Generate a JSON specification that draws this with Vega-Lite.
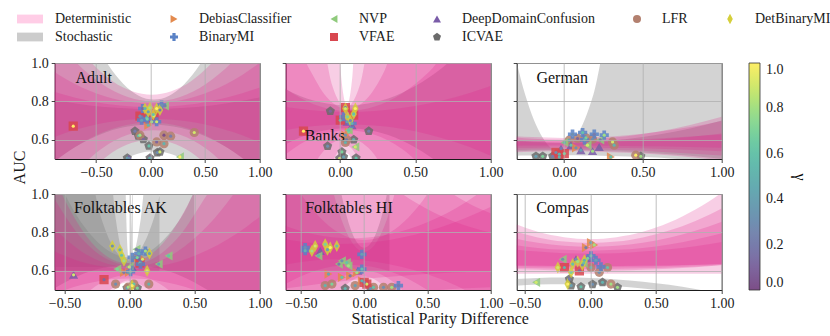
{
"$schema":"https://vega.github.io/schema/vega-lite/v6.json",
"autosize":{"type":"none"},
"padding":{"left":54.7,"top":63,"right":775.3,"bottom":273},
"background":"white",
"config":{"font":"Liberation Serif","view":{"stroke":"#1a1a1a","strokeWidth":1},
"text":{"font":"Liberation Serif"},
"axis":{"labelFont":"Liberation Serif","titleFont":"Liberation Serif","labelFontSize":14,"labelColor":"#1a1a1a","titleFontSize":16,"titleFontWeight":"normal","titleColor":"#1a1a1a","tickColor":"#1a1a1a","tickSize":3.5,"tickWidth":0.8,"domain":false,"grid":true,"gridColor":"#b0b0b0","gridWidth":0.8,"labelPadding":3,"labelFlush":false,"labelOverlap":false},
"legend":{"labelFont":"Liberation Serif","titleFont":"Liberation Serif","labelFontSize":14,"labelColor":"#1a1a1a"}},
"datasets":{
"bands":[
{"p":"A","b":1,"k":"s","x":[-0.9,-0.67,-0.39,-0.25,-0.11,0.03,0.17,0.31,0.45,0.73,1.05],"hi":[1.3,1.3,0.991,0.891,0.83,0.81,0.83,0.891,0.991,1.3,1.3],"lo":[0.3,0.3,0.436,0.494,0.528,0.54,0.528,0.494,0.436,0.3,0.3]},
{"p":"A","b":2,"k":"d","x":[-0.95,-0.89,-0.53,-0.35,-0.17,0.01,0.19,0.37,0.55,0.91,1.05],"hi":[1.3,1.275,0.993,0.905,0.853,0.835,0.853,0.905,0.993,1.275,1.3],"lo":[0.3,0.3,0.453,0.535,0.584,0.6,0.584,0.535,0.453,0.3,0.3]},
{"p":"A","b":3,"k":"d","x":[-0.95,-0.69,-0.45,-0.21,0.03,0.27,0.51,0.75,1.05],"hi":[1.181,1.006,0.892,0.823,0.8,0.823,0.892,1.006,1.213],"lo":[0.3,0.434,0.554,0.626,0.65,0.626,0.554,0.434,0.3]},
{"p":"A","b":4,"k":"d","x":[-0.95,-0.84,-0.56,-0.28,0,0.28,0.56,0.84,1.05],"hi":[0.98,0.938,0.856,0.806,0.79,0.806,0.856,0.938,1.022],"lo":[0.452,0.504,0.607,0.669,0.69,0.669,0.607,0.504,0.4]},
{"p":"A","b":5,"k":"d","x":[-0.95,-0.84,-0.56,-0.28,0,0.28,0.56,0.84,1.05],"hi":[0.862,0.842,0.802,0.778,0.77,0.778,0.802,0.842,0.882],"lo":[0.6,0.624,0.672,0.7,0.71,0.7,0.672,0.624,0.575]},
{"p":"A","b":6,"k":"s","x":[-0.95,-0.84,-0.56,-0.28,0,0.28,0.56,0.84,1.05],"hi":[0.815,0.803,0.779,0.765,0.76,0.765,0.779,0.803,0.828],"lo":[0.459,0.507,0.603,0.661,0.68,0.661,0.603,0.507,0.41]},
{"p":"B","b":1,"k":"d","x":[-0.4,-0.015,0.009,0.021,0.033,0.045,0.057,0.069,0.081,0.105,1.05],"hi":[1.3,1.172,0.921,0.843,0.796,0.78,0.796,0.843,0.921,1.172,1.3],"lo":[0.3,0.41,0.487,0.511,0.525,0.53,0.525,0.511,0.487,0.41,0.3]},
{"p":"B","b":2,"k":"d","x":[-0.4,-0.12,-0.056,-0.024,0.008,0.04,0.072,0.104,0.136,0.2,1.05],"hi":[1.3,1.118,0.895,0.826,0.784,0.77,0.784,0.826,0.895,1.118,1.3],"lo":[0.3,0.3,0.469,0.525,0.559,0.57,0.559,0.525,0.469,0.3,0.3]},
{"p":"B","b":3,"k":"d","x":[-0.4,-0.19,-0.11,-0.03,0.05,0.13,0.21,0.29,0.45,1.05],"hi":[1.3,0.95,0.844,0.781,0.76,0.781,0.844,0.95,1.288,1.3],"lo":[0.3,0.452,0.54,0.592,0.61,0.592,0.54,0.452,0.3,0.3]},
{"p":"B","b":4,"k":"d","x":[-0.4,-0.31,-0.13,0.05,0.23,0.41,0.59,0.95,1.05],"hi":[0.891,0.84,0.773,0.75,0.773,0.84,0.953,1.3,1.3],"lo":[0.5,0.554,0.626,0.65,0.626,0.554,0.434,0.3,0.3]},
{"p":"B","b":5,"k":"d","x":[-0.4,-0.31,-0.13,0.05,0.23,0.41,0.59,0.95,1.05],"hi":[0.776,0.765,0.75,0.745,0.75,0.765,0.789,0.867,0.896],"lo":[0.644,0.657,0.674,0.68,0.674,0.657,0.627,0.534,0.5]},
{"p":"B","b":6,"k":"s","x":[-0.4,-0.31,-0.13,0.05,0.23,0.41,0.59,0.95,1.05],"hi":[0.88,0.844,0.796,0.78,0.796,0.844,0.924,1.18,1.27],"lo":[0.56,0.596,0.644,0.66,0.644,0.596,0.516,0.3,0.3]},
{"p":"G","b":1,"k":"s","x":[-0.35,-0.246,-0.138,-0.03,0.078,0.186,0.294,0.51,1.05],"hi":[1.186,0.834,0.614,0.54,0.614,0.834,1.202,1.3,1.3],"lo":[0.516,0.518,0.52,0.52,0.52,0.518,0.516,0.51,0.478]},
{"p":"G","b":2,"k":"s","x":[-0.35,-0.2,0,0.2,0.4,0.6,1.0,1.05],"hi":[0.599,0.59,0.585,0.59,0.604,0.627,0.701,0.713],"lo":[0.54,0.543,0.545,0.543,0.538,0.529,0.501,0.496]},
{"p":"G","b":3,"k":"d","x":[-0.35,-0.2,0,0.2,0.4,0.6,1.0,1.05],"hi":[0.621,0.614,0.61,0.614,0.624,0.642,0.698,0.707],"lo":[0.546,0.549,0.55,0.549,0.545,0.538,0.518,0.515]},
{"p":"G","b":4,"k":"d","x":[-0.35,-0.2,0,0.2,0.4,0.6,1.0,1.05],"hi":[0.591,0.587,0.585,0.587,0.593,0.602,0.633,0.638],"lo":[0.558,0.559,0.56,0.559,0.557,0.553,0.54,0.538]},
{"p":"G","b":5,"k":"d","x":[-0.35,-0.2,0,0.2,0.4,0.6,1.0,1.05],"hi":[0.615,0.605,0.6,0.605,0.619,0.643,0.72,0.732],"lo":[0.534,0.538,0.54,0.538,0.532,0.523,0.492,0.487]},
{"p":"G","b":6,"k":"d","x":[-0.35,-0.2,0,0.2,0.4,0.6,1.0,1.05],"hi":[0.599,0.596,0.595,0.596,0.6,0.607,0.627,0.63],"lo":[0.569,0.57,0.57,0.57,0.568,0.566,0.558,0.557]},
{"p":"K","b":1,"k":"s","x":[-0.6,-0.055,-0.035,-0.025,-0.015,-0.005,0.005,0.015,0.025],"hi":[1.3,1.3,1.154,0.874,0.706,0.65,0.706,0.874,1.154],"lo":[0.62,0.62,0.62,0.62,0.62,0.62,0.62,0.62,0.62]},
{"p":"K","b":2,"k":"s","x":[-0.6,-0.25,-0.154,-0.106,-0.058,-0.01,0.038,0.086,0.134,0.23],"hi":[1.3,1.3,1.158,0.87,0.698,0.64,0.698,0.87,1.158,1.3],"lo":[0.6,0.6,0.6,0.6,0.6,0.6,0.6,0.6,0.6,0.6]},
{"p":"K","b":3,"k":"s","x":[-0.6,-0.525,-0.321,-0.219,-0.117,-0.015,0.087,0.189,0.291,0.495],"hi":[1.3,1.3,1.15,0.878,0.714,0.66,0.714,0.878,1.15,1.3],"lo":[0.6,0.6,0.6,0.6,0.6,0.6,0.6,0.6,0.6,0.6]},
{"p":"K","b":4,"k":"s","x":[-0.6,-0.4,-0.2,0,0.2,0.4,0.6,1.0,1.05],"hi":[1.145,0.881,0.723,0.67,0.723,0.881,1.145,1.3,1.3],"lo":[0.5,0.572,0.616,0.63,0.616,0.572,0.5,0.3,0.3]},
{"p":"K","b":5,"k":"d","x":[-0.6,-0.515,-0.365,-0.215,-0.135,-0.095,-0.055,-0.015,0.025,0.065,0.105,0.185,0.335,0.485,0.685,1.05],"hi":[1.122,0.993,0.813,0.696,0.66,0.649,0.642,0.64,0.642,0.649,0.66,0.696,0.813,0.993,1.3,1.3],"lo":[0.3,0.3,0.3,0.35,0.478,0.518,0.542,0.55,0.542,0.518,0.478,0.35,0.3,0.3,0.3,0.3]},
{"p":"K","b":6,"k":"d","x":[-0.6,-0.36,-0.24,-0.12,0,0.12,0.24,0.36,0.6,0.9,1.05],"hi":[0.834,0.697,0.654,0.629,0.62,0.629,0.654,0.697,0.834,1.101,1.274],"lo":[0.3,0.465,0.529,0.567,0.58,0.567,0.529,0.465,0.3,0.3,0.3]},
{"p":"K","b":7,"k":"d","x":[-0.6,-0.36,-0.24,-0.12,0,0.12,0.24,0.36,0.6,0.9,1.05],"hi":[0.708,0.645,0.626,0.614,0.61,0.614,0.626,0.645,0.708,0.83,0.909],"lo":[0.474,0.529,0.546,0.557,0.56,0.557,0.546,0.529,0.474,0.366,0.3]},
{"p":"K","b":8,"k":"d","x":[-0.6,-0.36,-0.24,-0.12,0,0.12,0.24,0.36,0.6,0.9,1.05],"hi":[1.0,0.763,0.689,0.645,0.63,0.645,0.689,0.763,1.0,1.3,1.3],"lo":[0.3,0.31,0.438,0.514,0.54,0.514,0.438,0.31,0.3,0.3,0.3]},
{"p":"H","b":1,"k":"s","x":[-0.65,-0.25,-0.18,-0.12,-0.06,0,0.06,0.12,0.18,0.2],"hi":[1.3,1.26,1.0,0.844,0.751,0.72,0.751,0.844,1.0,1.07],"lo":[0.6,0.6,0.6,0.6,0.6,0.6,0.6,0.6,0.6,0.6]},
{"p":"H","b":2,"k":"d","x":[-0.65,-0.35,-0.24,-0.16,-0.08,0,0.08,0.16,0.24,0.35,1.05],"hi":[1.3,1.3,1.0,0.833,0.733,0.7,0.733,0.833,1.0,1.3,1.3],"lo":[0.3,0.305,0.446,0.515,0.556,0.57,0.556,0.515,0.446,0.305,0.3]},
{"p":"H","b":3,"k":"d","x":[-0.65,-0.5,-0.35,-0.2,0,0.2,0.35,0.5,0.75,1.05],"hi":[1.166,1.0,0.878,0.798,0.76,0.798,0.878,1.0,1.3,1.3],"lo":[0.3,0.3225,0.464,0.556,0.6,0.556,0.464,0.3225,0.3,0.3]},
{"p":"H","b":4,"k":"d","x":[-0.65,-0.4,-0.1,0.2,0.5,0.8,1.05],"hi":[0.84,0.791,0.77,0.791,0.853,0.956,1.074],"lo":[0.521,0.598,0.63,0.598,0.5,0.338,0.3]},
{"p":"H","b":5,"k":"d","x":[-0.65,-0.3,0.1,0.4,0.7,1.0,1.05],"hi":[1.3,1.3,1.097,0.958,0.859,0.8,0.794],"lo":[0.505,0.536,0.564,0.58,0.591,0.598,0.598]},
{"p":"H","b":6,"k":"d","x":[-0.65,-0.45,-0.2,0.2,0.6,1.05],"hi":[0.767,0.748,0.74,0.761,0.825,0.948],"lo":[0.628,0.65,0.66,0.634,0.558,0.41]},
{"p":"H","b":7,"k":"d","x":[-0.65,0.0,0.5,0.7,0.9,1.05],"hi":[1.3,1.3,1.098,1.0,0.927,0.887],"lo":[0.39,0.459,0.495,0.505,0.512,0.516]},
{"p":"C","b":1,"k":"d","x":[-0.6,-0.4,-0.2,0,0.2,0.4,0.6,0.8,1.05],"hi":[0.851,0.803,0.775,0.765,0.775,0.803,0.851,0.919,1.03],"lo":[0.611,0.605,0.601,0.6,0.601,0.605,0.611,0.619,0.633]},
{"p":"C","b":2,"k":"d","x":[-0.6,-0.4,-0.2,0,0.2,0.4,0.6,0.8,1.05],"hi":[0.81,0.774,0.752,0.745,0.752,0.774,0.81,0.86,0.943],"lo":[0.617,0.613,0.611,0.61,0.611,0.613,0.617,0.623,0.632]},
{"p":"C","b":3,"k":"d","x":[-0.6,-0.4,-0.2,0,0.2,0.4,0.6,0.8,1.05],"hi":[0.772,0.746,0.73,0.725,0.73,0.746,0.772,0.808,0.868],"lo":[0.625,0.622,0.621,0.62,0.621,0.622,0.625,0.63,0.637]},
{"p":"C","b":4,"k":"d","x":[-0.6,-0.4,-0.2,0,0.2,0.4,0.6,0.8,1.05],"hi":[0.737,0.719,0.709,0.705,0.709,0.719,0.737,0.763,0.804],"lo":[0.629,0.627,0.625,0.625,0.625,0.627,0.629,0.631,0.636]},
{"p":"C","b":5,"k":"d","x":[-0.6,-0.4,-0.2,0,0.2,0.4,0.6,0.8,1.05],"hi":[0.712,0.7,0.692,0.69,0.692,0.7,0.712,0.728,0.756],"lo":[0.585,0.585,0.585,0.585,0.585,0.585,0.585,0.585,0.585]},
{"p":"C","b":6,"k":"s","x":[-0.6,-0.4,-0.2,0,0.2,0.4,0.6,0.8,1.05],"hi":[0.555,0.563,0.565,0.563,0.555,0.543,0.527,0.505,0.471],"lo":[0.52,0.528,0.53,0.528,0.52,0.508,0.492,0.47,0.436]}
],
"pts":[
{"p":"A","m":"ICVAE","x":[-0.144,-0.113,-0.067,-0.016,0.061,0.085,-0.214,-0.006],"y":[0.645,0.621,0.603,0.568,0.534,0.537,0.505,0.505],"g":[0.2,0.5,0.1,0.6,0.3,0.9,0.4,0.7]},
{"p":"A","m":"LFR","x":[-0.098,0.055,0.122,0.122,0.183,0.4],"y":[0.624,0.589,0.58,0.624,0.619,0.638],"g":[0.8,0.1,0.5,0,0.2,0.9]},
{"p":"A","m":"DeepDomainConfusion","x":[-0.006,-0.2],"y":[0.503,0.503],"g":[0.5,0.3]},
{"p":"A","m":"DebiasClassifier","x":[-0.022,0.009],"y":[0.676,0.694],"g":[0.5,0.8]},
{"p":"A","m":"NVP","x":[0.131,0.268],"y":[0.777,0.511],"g":[0.2,1]},
{"p":"A","m":"VFAE","x":[-0.71,-0.098,-0.037,0.03],"y":[0.671,0.723,0.714,0.725],"g":[1,0.3,0.6,0.9]},
{"p":"A","m":"BinaryMI","x":[-0.073,-0.083,-0.031,0.055,0.1],"y":[0.763,0.702,0.708,0.694,0.781],"g":[0.1,0.4,0.7,0.9,0.3]},
{"p":"A","m":"DetBinaryMI","x":[-0.052,-0.006,0.055,0.085,0.024,-0.022],"y":[0.763,0.767,0.763,0.755,0.732,0.746],"g":[0.5,0.8,1,0.2,0.6,0.4]},
{"p":"B","m":"ICVAE","x":[-0.064,-0.082,0.191,0.091,0.013,0.024,0.107,-0.002],"y":[0.749,0.567,0.645,0.601,0.537,0.511,0.505,0.503],"g":[0.1,0.3,0.2,0.5,0.7,0.4,0.6,0.9]},
{"p":"B","m":"LFR","x":[0.036,0.045],"y":[0.586,0.6],"g":[0.5,0.2]},
{"p":"B","m":"DeepDomainConfusion","x":[0.047,0.08],"y":[0.694,0.676],"g":[0.4,0.1]},
{"p":"B","m":"DebiasClassifier","x":[0.036,0.058],"y":[0.624,0.64],"g":[0.3,0.7]},
{"p":"B","m":"NVP","x":[0.058,0.102],"y":[0.65,0.563],"g":[0.6,0.9]},
{"p":"B","m":"VFAE","x":[-0.242,0.036,0.002,0.091],"y":[0.645,0.768,0.702,0.729],"g":[1,0.2,0.5,0.8]},
{"p":"B","m":"BinaryMI","x":[0.024,0.08],"y":[0.72,0.685],"g":[0.2,0.5]},
{"p":"B","m":"DetBinaryMI","x":[0.036,0.102,0.091,0.069,0.05],"y":[0.763,0.763,0.735,0.7,0.72],"g":[0.9,1,0.6,0.3,0.7]},
{"p":"G","m":"ICVAE","x":[-0.178,-0.135,-0.072,-0.03,0.487],"y":[0.514,0.514,0.514,0.51,0.514],"g":[0.4,0.7,0.2,0.5,0.8]},
{"p":"G","m":"LFR","x":[0.033,0.086,0.139,0.181,0.308,0.318,0.455],"y":[0.598,0.607,0.61,0.603,0.589,0.572,0.52],"g":[0.4,0.1,0.7,0.3,0.9,0.5,1]},
{"p":"G","m":"DeepDomainConfusion","x":[-0.019,0.044,0.107,0.181,0.223],"y":[0.554,0.572,0.546,0.541,0.563],"g":[0.2,0.6,0.4,0.8,0.1]},
{"p":"G","m":"DebiasClassifier","x":[0.297,0.076],"y":[0.511,0.558],"g":[0.6,0.3]},
{"p":"G","m":"NVP","x":[0.002,0.149,0.23],"y":[0.586,0.572,0.6],"g":[0.5,0.9,0.2]},
{"p":"G","m":"VFAE","x":[-0.051,0.002,-0.03],"y":[0.534,0.528,0.525],"g":[0.3,0.7,0.5]},
{"p":"G","m":"BinaryMI","x":[0.054,0.118,0.192,0.255,0.13],"y":[0.629,0.638,0.629,0.624,0.6],"g":[0.3,0.6,0.2,0.8,0.5]},
{"p":"K","m":"ICVAE","x":[-0.02,0.06],"y":[0.51,0.51],"g":[0.4,0.7]},
{"p":"K","m":"LFR","x":[0.071,0.148,-0.107,-0.01,0.033],"y":[0.66,0.531,0.531,0.515,0.531],"g":[0.1,0.5,0.3,0.8,0.6]},
{"p":"K","m":"DeepDomainConfusion","x":[-0.43,0.02],"y":[0.579,0.62],"g":[0.9,0.3]},
{"p":"K","m":"DebiasClassifier","x":[0.059,-0.005,-0.043,0.1],"y":[0.669,0.592,0.592,0.66],"g":[0.7,0.4,0.2,0.9]},
{"p":"K","m":"NVP","x":[0.053,0.3,0.224,-0.094,0.0],"y":[0.712,0.678,0.635,0.609,0.62],"g":[0.2,0.6,0.4,0.7,0.9]},
{"p":"K","m":"VFAE","x":[-0.196,0.08],"y":[0.554,0.64],"g":[0.1,0.6]},
{"p":"K","m":"BinaryMI","x":[0.02,0.071,0.122,0.084,0.008],"y":[0.67,0.69,0.703,0.635,0.596],"g":[0.3,0.5,0.8,0.2,0.6]},
{"p":"K","m":"DetBinaryMI","x":[-0.132,-0.074,-0.061,-0.043,0.153,0.135,0.02],"y":[0.729,0.709,0.681,0.652,0.69,0.6,0.523],"g":[0.3,0.5,0.6,0.8,0.4,0.9,1]},
{"p":"H","m":"ICVAE","x":[-0.15,0.05],"y":[0.508,0.508],"g":[0.5,0.3]},
{"p":"H","m":"LFR","x":[-0.308,-0.255,-0.071,0.074,0.153,0.218],"y":[0.523,0.531,0.523,0.514,0.514,0.514],"g":[0.5,0.7,0.4,0.6,0.3,0.8]},
{"p":"H","m":"DeepDomainConfusion","x":[-0.347,-0.05],"y":[0.703,0.6],"g":[0.1,0.3]},
{"p":"H","m":"DebiasClassifier","x":[-0.282,-0.176,-0.111,-0.058,-0.018],"y":[0.583,0.566,0.574,0.591,0.548],"g":[0.4,0.6,0.2,0.8,0.5]},
{"p":"H","m":"NVP","x":[-0.361,-0.176,-0.137,-0.124,-0.2],"y":[0.678,0.652,0.643,0.626,0.635],"g":[0.5,0.3,0.6,0.8,0.2]},
{"p":"H","m":"VFAE","x":[0.021,0.0],"y":[0.531,0.54],"g":[0.9,0.2]},
{"p":"H","m":"BinaryMI","x":[-0.466,-0.466,-0.018,-0.018,0.271],"y":[0.721,0.705,0.686,0.609,0.523],"g":[0.3,0.5,0.4,0.6,0.2]},
{"p":"H","m":"DetBinaryMI","x":[-0.387,-0.308,-0.268,-0.216,-0.413,-0.29],"y":[0.729,0.738,0.721,0.729,0.703,0.71],"g":[0.9,0.7,1,0.6,0.8,0.4]},
{"p":"C","m":"ICVAE","x":[-0.159,-0.146,-0.071,0.093,0.207,0.017],"y":[0.557,0.523,0.517,0.54,0.514,0.53],"g":[0.2,0.4,0.6,0.5,0.8,0.3]},
{"p":"C","m":"LFR","x":[0.131,0.068,0.157,0.005],"y":[0.617,0.592,0.531,0.617],"g":[0.6,0.3,0.8,0.5]},
{"p":"C","m":"DeepDomainConfusion","x":[-0.109,-0.02],"y":[0.66,0.665],"g":[0.3,0.7]},
{"p":"C","m":"DebiasClassifier","x":[0.005,0.03,-0.033],"y":[0.747,0.735,0.721],"g":[0.4,0.8,0.2]},
{"p":"C","m":"NVP","x":[-0.412,-0.21,-0.05],"y":[0.54,0.66,0.64],"g":[0.9,0.3,0.6]},
{"p":"C","m":"VFAE","x":[-0.197,-0.083],"y":[0.617,0.6],"g":[0.5,0.1]},
{"p":"C","m":"BinaryMI","x":[0.043,0.081,0.005],"y":[0.655,0.62,0.678],"g":[0.4,0.2,0.6]},
{"p":"C","m":"DetBinaryMI","x":[-0.247,-0.134,-0.096,-0.045,-0.06,-0.146,-0.172],"y":[0.617,0.635,0.648,0.655,0.63,0.592,0.531],"g":[0.9,0.6,0.8,0.5,0.3,0.7,1]}
]},
"columns":3,
"spacing":{"row":35,"column":26},
"bounds":"flush",
"concat":[
{"width":205,"height":96,"layer":[
{"data":{"name":"bands"},"transform":[{"filter":"datum.p==='A' && datum.k==='s'"},{"flatten":["x","hi","lo"]}],"mark":{"type":"area","interpolate":"monotone","color":"#808080","fillOpacity":0.35,"clip":true},"encoding":{"x":{"field":"x","type":"quantitative","scale":{"domain":[-0.88,1],"nice":false,"zero":false},"axis":{"values":[-0.5,0,0.5,1],"format":".2f","title":null,"zindex":1}},"y":{"field":"hi","type":"quantitative","stack":null,"scale":{"domain":[0.5,1],"nice":false,"zero":false},"axis":{"values":[0.6,0.8,1],"format":".1f","title":"AUC","titleY":104,"titlePadding":3,"zindex":1}},"y2":{"field":"lo"},"detail":{"field":"b","type":"nominal"}}},
{"data":{"name":"bands"},"transform":[{"filter":"datum.p==='A' && datum.k==='d'"},{"flatten":["x","hi","lo"]}],"mark":{"type":"area","interpolate":"monotone","color":"#e0208a","fillOpacity":0.22,"clip":true},"encoding":{"x":{"field":"x","type":"quantitative"},"y":{"field":"hi","type":"quantitative","stack":null},"y2":{"field":"lo"},"detail":{"field":"b","type":"nominal"}}},
{"data":{"name":"pts"},"transform":[{"filter":"datum.p==='A'"},{"flatten":["x","y","g"]}],"mark":{"type":"point","filled":true,"size":85,"opacity":0.85,"clip":true},"encoding":{"x":{"field":"x","type":"quantitative"},"y":{"field":"y","type":"quantitative"},
"fill":{"field":"m","type":"nominal","scale":{"domain":["Deterministic","DebiasClassifier","NVP","DeepDomainConfusion","LFR","DetBinaryMI","Stochastic","BinaryMI","VFAE","ICVAE"],"range":["#ffcde6","#e38a4e","#8fca7c","#7a5ca8","#b3806f","#d5cf3b","#cccccc","#5a82c6","#d8474f","#6b6b6b"]},"legend":{"orient":"none","legendX":-38.7,"legendY":-51,"direction":"horizontal","columns":6,"columnPadding":28,"rowPadding":4,"symbolSize":64,"symbolOffset":7,"labelOffset":18,"labelFontSize":14,"labelFont":"Liberation Serif","title":null,"symbolStrokeWidth":0,"symbolOpacity":1,"labelLimit":300,"padding":0}},
"shape":{"field":"m","type":"nominal","scale":{"domain":["Deterministic","DebiasClassifier","NVP","DeepDomainConfusion","LFR","DetBinaryMI","Stochastic","BinaryMI","VFAE","ICVAE"],"range":["M-3.25,-1.1H3.25V1.1H-3.25Z","triangle-right","triangle-left","triangle-up","circle","M0,-1.3L0.7,0L0,1.3L-0.7,0Z","M-3.25,-1.1H3.25V1.1H-3.25Z","cross","square","M0,-1.05L1,-0.32L0.62,0.85L-0.62,0.85L-1,-0.32Z"]},"legend":{"orient":"none","legendX":-38.7,"legendY":-51,"direction":"horizontal","columns":6,"columnPadding":28,"rowPadding":4,"symbolSize":64,"symbolOffset":7,"labelOffset":18,"labelFontSize":14,"labelFont":"Liberation Serif","title":null,"symbolStrokeWidth":0,"symbolOpacity":1,"labelLimit":300,"padding":0}}}},
{"data":{"name":"pts"},"transform":[{"filter":"datum.p==='A'"},{"flatten":["x","y","g"]}],"mark":{"type":"circle","size":10,"opacity":1,"clip":true},"encoding":{"x":{"field":"x","type":"quantitative"},"y":{"field":"y","type":"quantitative"},"color":{"field":"g","type":"quantitative","scale":{"type":"linear","domain":[0,0.125,0.25,0.375,0.5,0.625,0.75,0.875,1],"range":["#7c4d87","#7e6ca3","#7686ae","#6b9cb0","#64b2ae","#69c6a6","#8ed991","#c6e66e","#feee66"]},"legend":{"orient":"none","legendX":694.3,"legendY":0,"direction":"vertical","gradientLength":227,"gradientThickness":11,"values":[0,0.2,0.4,0.6,0.8,1],"format":".1f","title":"γ","titleOrient":"right","titleFontSize":16,"titleFont":"Liberation Serif","titleFontWeight":"normal","titleAnchor":"middle","titlePadding":8,"labelFontSize":14,"labelFont":"Liberation Serif","labelOffset":6,"labelBaseline":"middle","gradientStrokeColor":"#333333","gradientStrokeWidth":0.8,"labelOverlap":false,"padding":0}}}},
{"data":{"values":[{"t":"Adult"}]},"mark":{"type":"text","align":"left","baseline":"alphabetic","fontSize":16,"font":"Liberation Serif","color":"#111111"},"encoding":{"x":{"datum":-0.69},"y":{"datum":0.896},"text":{"field":"t","type":"nominal"}}}
]},
{"width":205,"height":96,"layer":[
{"data":{"name":"bands"},"transform":[{"filter":"datum.p==='B' && datum.k==='s'"},{"flatten":["x","hi","lo"]}],"mark":{"type":"area","interpolate":"monotone","color":"#808080","fillOpacity":0.35,"clip":true},"encoding":{"x":{"field":"x","type":"quantitative","scale":{"domain":[-0.36,1],"nice":false,"zero":false},"axis":{"values":[0,0.5,1],"format":".2f","title":null,"zindex":1}},"y":{"field":"hi","type":"quantitative","stack":null,"scale":{"domain":[0.5,1],"nice":false,"zero":false},"axis":{"values":[0.6,0.8,1],"labels":false,"title":null,"zindex":1}},"y2":{"field":"lo"},"detail":{"field":"b","type":"nominal"}}},
{"data":{"name":"bands"},"transform":[{"filter":"datum.p==='B' && datum.k==='d'"},{"flatten":["x","hi","lo"]}],"mark":{"type":"area","interpolate":"monotone","color":"#e0208a","fillOpacity":0.22,"clip":true},"encoding":{"x":{"field":"x","type":"quantitative"},"y":{"field":"hi","type":"quantitative","stack":null},"y2":{"field":"lo"},"detail":{"field":"b","type":"nominal"}}},
{"data":{"name":"pts"},"transform":[{"filter":"datum.p==='B'"},{"flatten":["x","y","g"]}],"mark":{"type":"point","filled":true,"size":85,"opacity":0.85,"clip":true},"encoding":{"x":{"field":"x","type":"quantitative"},"y":{"field":"y","type":"quantitative"},
"fill":{"field":"m","type":"nominal","scale":{"domain":["Deterministic","DebiasClassifier","NVP","DeepDomainConfusion","LFR","DetBinaryMI","Stochastic","BinaryMI","VFAE","ICVAE"],"range":["#ffcde6","#e38a4e","#8fca7c","#7a5ca8","#b3806f","#d5cf3b","#cccccc","#5a82c6","#d8474f","#6b6b6b"]}},
"shape":{"field":"m","type":"nominal","scale":{"domain":["Deterministic","DebiasClassifier","NVP","DeepDomainConfusion","LFR","DetBinaryMI","Stochastic","BinaryMI","VFAE","ICVAE"],"range":["M-3.25,-1.1H3.25V1.1H-3.25Z","triangle-right","triangle-left","triangle-up","circle","M0,-1.3L0.7,0L0,1.3L-0.7,0Z","M-3.25,-1.1H3.25V1.1H-3.25Z","cross","square","M0,-1.05L1,-0.32L0.62,0.85L-0.62,0.85L-1,-0.32Z"]}}}},
{"data":{"name":"pts"},"transform":[{"filter":"datum.p==='B'"},{"flatten":["x","y","g"]}],"mark":{"type":"circle","size":10,"opacity":1,"clip":true},"encoding":{"x":{"field":"x","type":"quantitative"},"y":{"field":"y","type":"quantitative"},"color":{"field":"g","type":"quantitative"}}},
{"data":{"values":[{"t":"Banks"}]},"mark":{"type":"text","align":"left","baseline":"alphabetic","fontSize":16,"font":"Liberation Serif","color":"#111111"},"encoding":{"x":{"datum":-0.234},"y":{"datum":0.594},"text":{"field":"t","type":"nominal"}}}
]},
{"width":205,"height":96,"layer":[
{"data":{"name":"bands"},"transform":[{"filter":"datum.p==='G' && datum.k==='s'"},{"flatten":["x","hi","lo"]}],"mark":{"type":"area","interpolate":"monotone","color":"#808080","fillOpacity":0.35,"clip":true},"encoding":{"x":{"field":"x","type":"quantitative","scale":{"domain":[-0.3,1],"nice":false,"zero":false},"axis":{"values":[0,0.5,1],"format":".2f","title":null,"zindex":1}},"y":{"field":"hi","type":"quantitative","stack":null,"scale":{"domain":[0.5,1],"nice":false,"zero":false},"axis":{"values":[0.6,0.8,1],"labels":false,"title":null,"zindex":1}},"y2":{"field":"lo"},"detail":{"field":"b","type":"nominal"}}},
{"data":{"name":"bands"},"transform":[{"filter":"datum.p==='G' && datum.k==='d'"},{"flatten":["x","hi","lo"]}],"mark":{"type":"area","interpolate":"monotone","color":"#e0208a","fillOpacity":0.22,"clip":true},"encoding":{"x":{"field":"x","type":"quantitative"},"y":{"field":"hi","type":"quantitative","stack":null},"y2":{"field":"lo"},"detail":{"field":"b","type":"nominal"}}},
{"data":{"name":"pts"},"transform":[{"filter":"datum.p==='G'"},{"flatten":["x","y","g"]}],"mark":{"type":"point","filled":true,"size":85,"opacity":0.85,"clip":true},"encoding":{"x":{"field":"x","type":"quantitative"},"y":{"field":"y","type":"quantitative"},
"fill":{"field":"m","type":"nominal","scale":{"domain":["Deterministic","DebiasClassifier","NVP","DeepDomainConfusion","LFR","DetBinaryMI","Stochastic","BinaryMI","VFAE","ICVAE"],"range":["#ffcde6","#e38a4e","#8fca7c","#7a5ca8","#b3806f","#d5cf3b","#cccccc","#5a82c6","#d8474f","#6b6b6b"]}},
"shape":{"field":"m","type":"nominal","scale":{"domain":["Deterministic","DebiasClassifier","NVP","DeepDomainConfusion","LFR","DetBinaryMI","Stochastic","BinaryMI","VFAE","ICVAE"],"range":["M-3.25,-1.1H3.25V1.1H-3.25Z","triangle-right","triangle-left","triangle-up","circle","M0,-1.3L0.7,0L0,1.3L-0.7,0Z","M-3.25,-1.1H3.25V1.1H-3.25Z","cross","square","M0,-1.05L1,-0.32L0.62,0.85L-0.62,0.85L-1,-0.32Z"]}}}},
{"data":{"name":"pts"},"transform":[{"filter":"datum.p==='G'"},{"flatten":["x","y","g"]}],"mark":{"type":"circle","size":10,"opacity":1,"clip":true},"encoding":{"x":{"field":"x","type":"quantitative"},"y":{"field":"y","type":"quantitative"},"color":{"field":"g","type":"quantitative"}}},
{"data":{"values":[{"t":"German"}]},"mark":{"type":"text","align":"left","baseline":"alphabetic","fontSize":16,"font":"Liberation Serif","color":"#111111"},"encoding":{"x":{"datum":-0.175},"y":{"datum":0.896},"text":{"field":"t","type":"nominal"}}}
]},
{"width":205,"height":96,"layer":[
{"data":{"name":"bands"},"transform":[{"filter":"datum.p==='K' && datum.k==='s'"},{"flatten":["x","hi","lo"]}],"mark":{"type":"area","interpolate":"monotone","color":"#808080","fillOpacity":0.35,"clip":true},"encoding":{"x":{"field":"x","type":"quantitative","scale":{"domain":[-0.575,1],"nice":false,"zero":false},"axis":{"values":[-0.5,0,0.5,1],"format":".2f","title":null,"zindex":1}},"y":{"field":"hi","type":"quantitative","stack":null,"scale":{"domain":[0.5,1],"nice":false,"zero":false},"axis":{"values":[0.6,0.8,1],"format":".1f","title":null,"zindex":1}},"y2":{"field":"lo"},"detail":{"field":"b","type":"nominal"}}},
{"data":{"name":"bands"},"transform":[{"filter":"datum.p==='K' && datum.k==='d'"},{"flatten":["x","hi","lo"]}],"mark":{"type":"area","interpolate":"monotone","color":"#e0208a","fillOpacity":0.22,"clip":true},"encoding":{"x":{"field":"x","type":"quantitative"},"y":{"field":"hi","type":"quantitative","stack":null},"y2":{"field":"lo"},"detail":{"field":"b","type":"nominal"}}},
{"data":{"name":"pts"},"transform":[{"filter":"datum.p==='K'"},{"flatten":["x","y","g"]}],"mark":{"type":"point","filled":true,"size":85,"opacity":0.85,"clip":true},"encoding":{"x":{"field":"x","type":"quantitative"},"y":{"field":"y","type":"quantitative"},
"fill":{"field":"m","type":"nominal","scale":{"domain":["Deterministic","DebiasClassifier","NVP","DeepDomainConfusion","LFR","DetBinaryMI","Stochastic","BinaryMI","VFAE","ICVAE"],"range":["#ffcde6","#e38a4e","#8fca7c","#7a5ca8","#b3806f","#d5cf3b","#cccccc","#5a82c6","#d8474f","#6b6b6b"]}},
"shape":{"field":"m","type":"nominal","scale":{"domain":["Deterministic","DebiasClassifier","NVP","DeepDomainConfusion","LFR","DetBinaryMI","Stochastic","BinaryMI","VFAE","ICVAE"],"range":["M-3.25,-1.1H3.25V1.1H-3.25Z","triangle-right","triangle-left","triangle-up","circle","M0,-1.3L0.7,0L0,1.3L-0.7,0Z","M-3.25,-1.1H3.25V1.1H-3.25Z","cross","square","M0,-1.05L1,-0.32L0.62,0.85L-0.62,0.85L-1,-0.32Z"]}}}},
{"data":{"name":"pts"},"transform":[{"filter":"datum.p==='K'"},{"flatten":["x","y","g"]}],"mark":{"type":"circle","size":10,"opacity":1,"clip":true},"encoding":{"x":{"field":"x","type":"quantitative"},"y":{"field":"y","type":"quantitative"},"color":{"field":"g","type":"quantitative"}}},
{"data":{"values":[{"t":"Folktables AK"}]},"mark":{"type":"text","align":"left","baseline":"alphabetic","fontSize":16,"font":"Liberation Serif","color":"#111111"},"encoding":{"x":{"datum":-0.427},"y":{"datum":0.902},"text":{"field":"t","type":"nominal"}}}
]},
{"width":205,"height":96,"layer":[
{"data":{"name":"bands"},"transform":[{"filter":"datum.p==='H' && datum.k==='s'"},{"flatten":["x","hi","lo"]}],"mark":{"type":"area","interpolate":"monotone","color":"#808080","fillOpacity":0.35,"clip":true},"encoding":{"x":{"field":"x","type":"quantitative","scale":{"domain":[-0.62,1],"nice":false,"zero":false},"axis":{"values":[-0.5,0,0.5,1],"format":".2f","title":"Statistical Parity Difference","titleX":154,"titleAlign":"center","titlePadding":0,"zindex":1}},"y":{"field":"hi","type":"quantitative","stack":null,"scale":{"domain":[0.5,1],"nice":false,"zero":false},"axis":{"values":[0.6,0.8,1],"labels":false,"title":null,"zindex":1}},"y2":{"field":"lo"},"detail":{"field":"b","type":"nominal"}}},
{"data":{"name":"bands"},"transform":[{"filter":"datum.p==='H' && datum.k==='d'"},{"flatten":["x","hi","lo"]}],"mark":{"type":"area","interpolate":"monotone","color":"#e0208a","fillOpacity":0.22,"clip":true},"encoding":{"x":{"field":"x","type":"quantitative"},"y":{"field":"hi","type":"quantitative","stack":null},"y2":{"field":"lo"},"detail":{"field":"b","type":"nominal"}}},
{"data":{"name":"pts"},"transform":[{"filter":"datum.p==='H'"},{"flatten":["x","y","g"]}],"mark":{"type":"point","filled":true,"size":85,"opacity":0.85,"clip":true},"encoding":{"x":{"field":"x","type":"quantitative"},"y":{"field":"y","type":"quantitative"},
"fill":{"field":"m","type":"nominal","scale":{"domain":["Deterministic","DebiasClassifier","NVP","DeepDomainConfusion","LFR","DetBinaryMI","Stochastic","BinaryMI","VFAE","ICVAE"],"range":["#ffcde6","#e38a4e","#8fca7c","#7a5ca8","#b3806f","#d5cf3b","#cccccc","#5a82c6","#d8474f","#6b6b6b"]}},
"shape":{"field":"m","type":"nominal","scale":{"domain":["Deterministic","DebiasClassifier","NVP","DeepDomainConfusion","LFR","DetBinaryMI","Stochastic","BinaryMI","VFAE","ICVAE"],"range":["M-3.25,-1.1H3.25V1.1H-3.25Z","triangle-right","triangle-left","triangle-up","circle","M0,-1.3L0.7,0L0,1.3L-0.7,0Z","M-3.25,-1.1H3.25V1.1H-3.25Z","cross","square","M0,-1.05L1,-0.32L0.62,0.85L-0.62,0.85L-1,-0.32Z"]}}}},
{"data":{"name":"pts"},"transform":[{"filter":"datum.p==='H'"},{"flatten":["x","y","g"]}],"mark":{"type":"circle","size":10,"opacity":1,"clip":true},"encoding":{"x":{"field":"x","type":"quantitative"},"y":{"field":"y","type":"quantitative"},"color":{"field":"g","type":"quantitative"}}},
{"data":{"values":[{"t":"Folktables HI"}]},"mark":{"type":"text","align":"left","baseline":"alphabetic","fontSize":16,"font":"Liberation Serif","color":"#111111"},"encoding":{"x":{"datum":-0.466},"y":{"datum":0.902},"text":{"field":"t","type":"nominal"}}}
]},
{"width":205,"height":96,"layer":[
{"data":{"name":"bands"},"transform":[{"filter":"datum.p==='C' && datum.k==='s'"},{"flatten":["x","hi","lo"]}],"mark":{"type":"area","interpolate":"monotone","color":"#808080","fillOpacity":0.35,"clip":true},"encoding":{"x":{"field":"x","type":"quantitative","scale":{"domain":[-0.56,1],"nice":false,"zero":false},"axis":{"values":[-0.5,0,0.5,1],"format":".2f","title":null,"zindex":1}},"y":{"field":"hi","type":"quantitative","stack":null,"scale":{"domain":[0.5,1],"nice":false,"zero":false},"axis":{"values":[0.6,0.8,1],"labels":false,"title":null,"zindex":1}},"y2":{"field":"lo"},"detail":{"field":"b","type":"nominal"}}},
{"data":{"name":"bands"},"transform":[{"filter":"datum.p==='C' && datum.k==='d'"},{"flatten":["x","hi","lo"]}],"mark":{"type":"area","interpolate":"monotone","color":"#e0208a","fillOpacity":0.22,"clip":true},"encoding":{"x":{"field":"x","type":"quantitative"},"y":{"field":"hi","type":"quantitative","stack":null},"y2":{"field":"lo"},"detail":{"field":"b","type":"nominal"}}},
{"data":{"name":"pts"},"transform":[{"filter":"datum.p==='C'"},{"flatten":["x","y","g"]}],"mark":{"type":"point","filled":true,"size":85,"opacity":0.85,"clip":true},"encoding":{"x":{"field":"x","type":"quantitative"},"y":{"field":"y","type":"quantitative"},
"fill":{"field":"m","type":"nominal","scale":{"domain":["Deterministic","DebiasClassifier","NVP","DeepDomainConfusion","LFR","DetBinaryMI","Stochastic","BinaryMI","VFAE","ICVAE"],"range":["#ffcde6","#e38a4e","#8fca7c","#7a5ca8","#b3806f","#d5cf3b","#cccccc","#5a82c6","#d8474f","#6b6b6b"]}},
"shape":{"field":"m","type":"nominal","scale":{"domain":["Deterministic","DebiasClassifier","NVP","DeepDomainConfusion","LFR","DetBinaryMI","Stochastic","BinaryMI","VFAE","ICVAE"],"range":["M-3.25,-1.1H3.25V1.1H-3.25Z","triangle-right","triangle-left","triangle-up","circle","M0,-1.3L0.7,0L0,1.3L-0.7,0Z","M-3.25,-1.1H3.25V1.1H-3.25Z","cross","square","M0,-1.05L1,-0.32L0.62,0.85L-0.62,0.85L-1,-0.32Z"]}}}},
{"data":{"name":"pts"},"transform":[{"filter":"datum.p==='C'"},{"flatten":["x","y","g"]}],"mark":{"type":"circle","size":10,"opacity":1,"clip":true},"encoding":{"x":{"field":"x","type":"quantitative"},"y":{"field":"y","type":"quantitative"},"color":{"field":"g","type":"quantitative"}}},
{"data":{"values":[{"t":"Compas"}]},"mark":{"type":"text","align":"left","baseline":"alphabetic","fontSize":16,"font":"Liberation Serif","color":"#111111"},"encoding":{"x":{"datum":-0.411},"y":{"datum":0.902},"text":{"field":"t","type":"nominal"}}}
]}
]
}
